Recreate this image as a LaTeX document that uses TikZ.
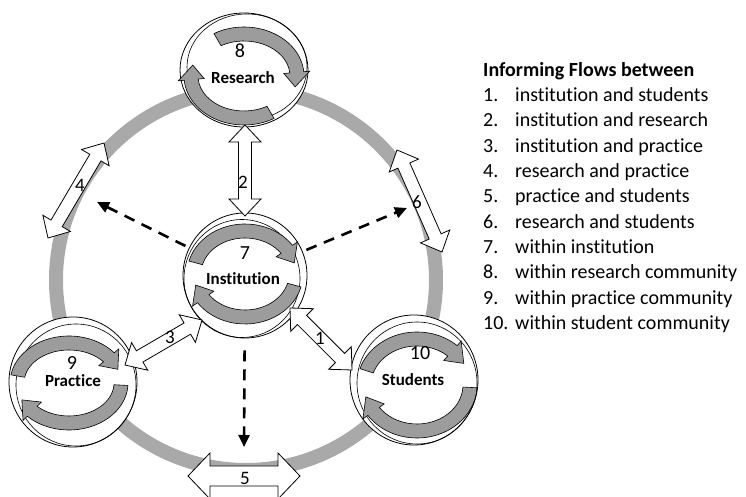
\documentclass[tikz,border=0pt]{standalone}
\usepackage{fontspec}
\setmainfont{Carlito}[Ligatures=NoCommon]
\usetikzlibrary{calc,shapes.geometric,arrows.meta}
\definecolor{ringgray}{HTML}{A9A9A9}
\definecolor{arcgray}{HTML}{9C9C9C}

% one curved band arrow on an elliptical track:
% #1 centre, #2/#3 mid radii, #4 start angle, #5 head base angle, #6 tip angle
\newcommand{\curvedarrow}[6]{%
  \pgfmathsetmacro{\rxo}{#2+7}\pgfmathsetmacro{\ryo}{#3+7}%
  \pgfmathsetmacro{\rxi}{#2-7}\pgfmathsetmacro{\ryi}{#3-7}%
  \pgfmathsetmacro{\rxf}{#2+13}\pgfmathsetmacro{\ryf}{#3+13}%
  \pgfmathsetmacro{\rxg}{#2-13}\pgfmathsetmacro{\ryg}{#3-13}%
  \filldraw[cycarrow, shift={(#1)}]
    (#4:\rxo\space and \ryo)
    arc[start angle=#4, end angle=#5, x radius=\rxo, y radius=\ryo]
    -- (#5:\rxf\space and \ryf) -- (#6:#2 and #3) -- (#5:\rxg\space and \ryg)
    -- (#5:\rxi\space and \ryi)
    arc[start angle=#5, end angle=#4, x radius=\rxi, y radius=\ryi]
    -- cycle;}

% white double-headed block arrow between two named points:
% #1,#2 tips, #3 half shaft width, #4 half head width, #5 head length
\newcommand{\blockarrow}[5]{%
  \coordinate (ba1) at ($(#1)!#5!(#2)$);
  \coordinate (ba2) at ($(#2)!#5!(#1)$);
  \filldraw[block] (#1) -- ($(ba1)!#4!90:(#2)$) -- ($(ba1)!#3!90:(#2)$)
    -- ($(ba2)!#3!-90:(#1)$) -- ($(ba2)!#4!-90:(#1)$) -- (#2)
    -- ($(ba2)!#4!90:(#1)$) -- ($(ba2)!#3!90:(#1)$)
    -- ($(ba1)!#3!-90:(#2)$) -- ($(ba1)!#4!-90:(#2)$) -- cycle;}

\begin{document}
\begin{tikzpicture}[x=1pt,y=1pt,
  circ/.style={ellipse, draw=black, line width=0.8pt, fill=white, inner sep=0pt},
  inner/.style={draw=black, line width=0.6pt},
  cycarrow/.style={fill=arcgray, draw=black, line width=0.6pt, line join=miter},
  block/.style={fill=white, draw=black, line width=0.8pt, line join=miter},
  dasharrow/.style={draw=black, line width=2.6pt, dash pattern=on 11pt off 8pt,
    -{Triangle[length=12pt,width=11pt]}},
  numlab/.style={font=\fontsize{20}{22}\selectfont, inner sep=0pt},
  namelab/.style={font=\bfseries\fontsize{17}{19}\selectfont, inner sep=0pt},
  flowlab/.style={font=\fontsize{19}{21}\selectfont, inner sep=0pt},
  legend/.style={font=\fontsize{20}{22}\selectfont, inner sep=0pt, anchor=base west},
]
\useasboundingbox (0,0) rectangle (746,497);
\fill[white] (0,0) rectangle (746,497);

% outer ring
\draw[ringgray, line width=14pt] (246,217) circle[radius=190];

% communities
\node[circ, minimum width=128pt, minimum height=114pt] (R) at (244,427) {};
\node[circ, minimum width=124pt, minimum height=125pt] (I) at (245,221.5) {};
\node[circ, minimum width=128pt, minimum height=130pt] (P) at (73,115) {};
\node[circ, minimum width=128pt, minimum height=130pt] (S) at (414,117) {};

% second outlines
\draw[inner] ($(R)+(3,3)$) ellipse[x radius=60, y radius=53];
\draw[inner] ($(I)+(-3,-3)$) ellipse[x radius=58, y radius=59];
\draw[inner] ($(P)+(3,-3)$) ellipse[x radius=60, y radius=61];
\draw[inner] ($(S)+(3,-3)$) ellipse[x radius=60, y radius=61];

% cycles inside each community
\coordinate (Rc) at (244,421);
\coordinate (Ic) at (245,223);
\coordinate (Pc) at (69,114);
\coordinate (Sc) at (417,112);
\curvedarrow{Rc}{53}{42}{120}{5}{-15}
\curvedarrow{Rc}{53}{42}{-60}{-175}{-195}
\curvedarrow{Ic}{51}{43}{165}{35}{15}
\curvedarrow{Ic}{51}{43}{-15}{-145}{-165}
\curvedarrow{Pc}{52}{40}{170}{40}{20}
\curvedarrow{Pc}{52}{40}{-3}{-135}{-155}
\curvedarrow{Sc}{53}{46}{162}{48}{28}
\curvedarrow{Sc}{53}{46}{-3}{-145}{-165}

% labels
\node[numlab] (R8) at (240,446) {8};
\node[namelab] (Rl) at (243,419) {Research};
\node[numlab] (I7) at (245,244) {7};
\node[namelab] (Il) at (243,218) {Institution};
\node[numlab] (P9) at (72,134) {9};
\node[namelab] (Pl) at (73,116) {Practice};
\node[numlab] (S10) at (420,144) {10};
\node[namelab] (Sl) at (413,117) {Students};

% dashed flows out of the institution
\coordinate (dl) at (97,295);
\coordinate (dr) at (407,289);
\coordinate (dd) at (244,50);
\draw[dasharrow, shorten <=4pt] (I) -- (dl);
\draw[dasharrow, shorten <=4pt] (I) -- (dr);
\draw[dasharrow, shorten <=12pt] (I) -- (dd);

% block arrows between communities
\coordinate (a1i) at (290,189);  \coordinate (a1s) at (352,127);
\coordinate (a2r) at (245,372);  \coordinate (a2i) at (245,281);
\coordinate (a3i) at (202,177);  \coordinate (a3p) at (125,132);
\coordinate (a4r) at (104,354);  \coordinate (a4p) at (48,259);
\coordinate (a5p) at (188,21);   \coordinate (a5s) at (300,21);
\coordinate (a6r) at (397,347);  \coordinate (a6s) at (442,245);
\blockarrow{a1i}{a1s}{6.5pt}{16pt}{17pt}
\blockarrow{a2r}{a2i}{6.5pt}{16pt}{17pt}
\blockarrow{a3i}{a3p}{6.5pt}{16pt}{17pt}
\blockarrow{a4r}{a4p}{6.5pt}{16pt}{17pt}
\blockarrow{a5p}{a5s}{10pt}{23pt}{22pt}
\blockarrow{a6r}{a6s}{6.5pt}{16pt}{17pt}

\node[flowlab] (f1) at (320,159) {1};
\node[flowlab] (f2) at (243,315) {2};
\node[flowlab] (f3) at (170,160) {3};
\node[flowlab] (f4) at (80,312) {4};
\node[flowlab] (f5) at (245,19) {5};
\node[flowlab] (f6) at (417,295) {6};

% key
\node[legend, font=\bfseries\fontsize{20}{22}\selectfont] (kh) at (483,420) {Informing Flows between};
\foreach \n/\t [count=\k from 0] in {
  1./institution and students,
  2./institution and research,
  3./institution and practice,
  4./research and practice,
  5./practice and students,
  6./research and students,
  7./within institution,
  8./within research community,
  9./within practice community,
  10./within student community}{
  \node[legend] (kn\k) at (483,395.5-25.33*\k) {\n};
  \node[legend] (kt\k) at (515,395.5-25.33*\k) {\t};
}
\end{tikzpicture}
\end{document}
